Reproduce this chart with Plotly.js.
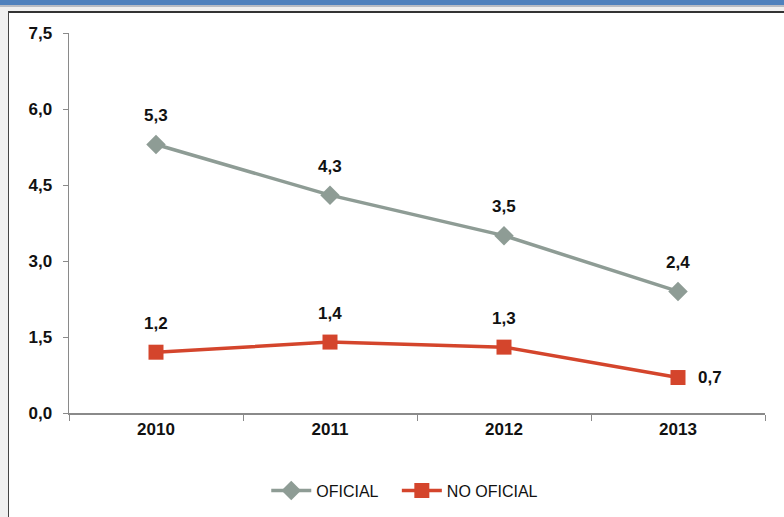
<!DOCTYPE html>
<html>
<head>
<meta charset="utf-8">
<script src="https://cdn.plot.ly/plotly-3.0.1.min.js"></script>
<style>
  html, body { margin: 0; padding: 0; background: #f0f0f0; width: 784px; height: 517px; overflow: hidden; }
  #topbar { position: absolute; left: 0; top: 0; width: 784px; height: 5px; background: #4f81bd; border-bottom: 2px solid #b8bcc4; }
  #frame { position: absolute; left: 8px; top: 11px; width: 776px; height: 506px; background: #ffffff; border-top: 2px solid #333; border-left: 1px solid #444; }
  #chart { width: 776px; height: 506px; }
</style>
</head>
<body>
<div id="topbar"></div>
<div id="frame"><div id="chart"></div></div>
<script>
const categories = ['2010', '2011', '2012', '2013'];
const oficial = [5.3, 4.3, 3.5, 2.4];
const noOficial = [1.2, 1.4, 1.3, 0.7];
const seriesNames = ['OFICIAL', 'NO OFICIAL'];
const yTicks = [0, 1.5, 3.0, 4.5, 6.0, 7.5];

const fmt = v => v.toFixed(1).replace('.', ',');
const FONT = 'Liberation Sans, Arial, sans-serif';

const traces = [
  {
    x: categories, y: oficial, name: seriesNames[0] + '\u00a0\u00a0\u00a0', type: 'scatter', mode: 'lines+markers',
    line: { color: '#8e9c95', width: 3.5 },
    marker: { symbol: 'diamond', size: 15, color: '#8e9c95' }
  },
  {
    x: categories, y: noOficial, name: seriesNames[1], type: 'scatter', mode: 'lines+markers',
    line: { color: '#d4452c', width: 3.5 },
    marker: { symbol: 'square', size: 15, color: '#d4452c' }
  }
];

const annotations = [];
for (let i = 0; i < categories.length; i++) {
  annotations.push({
    xref: 'x', yref: 'y', x: i, y: oficial[i], text: '<b>' + fmt(oficial[i]) + '</b>',
    showarrow: false, yshift: 29,
    font: { family: FONT, size: 17, color: '#111111' }
  });
  const last = i === categories.length - 1;
  annotations.push({
    xref: 'x', yref: 'y', x: i, y: noOficial[i], text: '<b>' + fmt(noOficial[i]) + '</b>',
    showarrow: false, yshift: last ? 0 : 29, xshift: last ? 32 : 0,
    font: { family: FONT, size: 17, color: '#111111' }
  });
}

const layout = {
  width: 776, height: 506,
  margin: { l: 60, r: 20, t: 20, b: 106 },
  paper_bgcolor: '#ffffff', plot_bgcolor: '#ffffff',
  font: { family: FONT, size: 16, color: '#111' },
  showlegend: true,
  legend: { orientation: 'h', x: 0.51, xanchor: 'center', xref: 'container',
    y: 0.056, yanchor: 'middle', yref: 'container',
    font: { family: FONT, size: 16, color: '#111' }, itemwidth: 40, traceorder: 'normal' },
  xaxis: {
    type: 'category', range: [-0.5, 3.5], tickson: 'boundaries',
    showline: true, linecolor: '#8a8a8a', linewidth: 1.5,
    ticks: 'outside', ticklen: 6, tickcolor: '#8a8a8a',
    showgrid: false, zeroline: false, automargin: false,
    tickfont: { family: FONT, size: 17, color: '#111', weight: 'bold' }
  },
  yaxis: {
    range: [0, 7.5], tickvals: yTicks, ticktext: yTicks.map(fmt),
    showline: true, linecolor: '#8a8a8a', linewidth: 1.5,
    ticks: 'outside', ticklen: 5, tickcolor: '#8a8a8a', ticklabelstandoff: 7,
    showgrid: false, zeroline: false, automargin: false,
    tickfont: { family: FONT, size: 17, color: '#111', weight: 'bold' }
  },
  annotations: annotations
};

Plotly.newPlot('chart', traces, layout, { displayModeBar: false, staticPlot: true });
</script>
</body>
</html>
